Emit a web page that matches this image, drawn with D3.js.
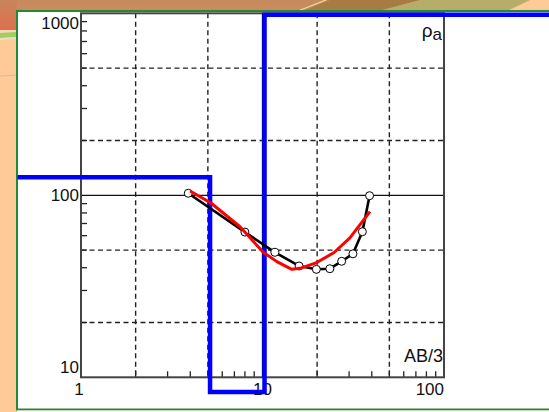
<!DOCTYPE html>
<html>
<head>
<meta charset="utf-8">
<script src="https://d3js.org/d3.v7.min.js"></script>
<style>
  html, body { margin: 0; padding: 0; background: #fecb98; }
  svg { display: block; }
  text { font-family: "Liberation Sans", Arial, sans-serif; fill: #111; }
</style>
</head>
<body>
<svg id="chart" width="549" height="412"></svg>
<script>
// tick labels and grid values
const xTicks = [1, 10, 100];
const yTicks = [10, 100, 1000];
const gridX = [2, 5, 20, 50];
const gridY = [20, 50, 200, 500];

// observed apparent resistivity (circles + black line)
const obsAB  = [3.9, 8.0, 11.7, 15.9, 19.8, 23.5, 27.3, 31.5, 35.5, 38.9];
const obsRho = [102.6, 62.8, 48.6, 40.9, 39.2, 39.5, 43.4, 47.7, 63.1, 99.5];

// computed curve (red)
const calcAB  = [3.99, 5.2, 7.52, 10.06, 12.0, 14.5, 16.1, 19.7, 24.8, 30.3, 39.1];
const calcRho = [105.6, 90.7, 67.2, 48.8, 43.2, 39.2, 39.7, 42.5, 48.5, 58.3, 81.3];

// layer model (blue step line)
const layerBounds = [0.447, 5.14, 10.26, 380];
const layerRho = [125.6, 8.3, 982];

const svg = d3.select("#chart");
const W = 549, H = 412;
const frame = { left: 81, right: 444, top: 13.3, bottom: 377.3 };

// ---- slide background bits ----
const defs = svg.append("defs");
const g1 = defs.append("linearGradient").attr("id", "topgrad").attr("x1", 0).attr("y1", 0).attr("x2", 0).attr("y2", 1);
g1.append("stop").attr("offset", "0%").attr("stop-color", "#c58a5c");
g1.append("stop").attr("offset", "100%").attr("stop-color", "#cf8a5e");
const g2 = defs.append("linearGradient").attr("id", "leftgrad").attr("x1", 0).attr("y1", 0).attr("x2", 0).attr("y2", 1);
g2.append("stop").attr("offset", "0%").attr("stop-color", "#c8865a");
g2.append("stop").attr("offset", "100%").attr("stop-color", "#de6e4e");

svg.append("rect").attr("width", W).attr("height", H).attr("fill", "#fecb98");
svg.append("rect").attr("width", W).attr("height", 12).attr("fill", "url(#topgrad)");
svg.append("rect").attr("width", 17).attr("height", 30).attr("fill", "url(#leftgrad)");
svg.append("polygon").attr("points", "0,30 17,30 17,32 0,33").attr("fill", "#f3d8b0");
svg.append("polygon").attr("points", "0,33 17,32 17,37 0,38").attr("fill", "#a2cc64");
svg.append("polygon").attr("points", "0,38 17,37 17,39 0,40").attr("fill", "#e8e0c0");
svg.append("line").attr("x1", 0).attr("x2", 17).attr("y1", 76).attr("y2", 75).attr("stroke", "#d2bea0").attr("stroke-width", 1.2);
svg.append("polygon").attr("points", "300,12 330,0 420,0 375,12").attr("fill", "#a87a44");
svg.append("polygon").attr("points", "375,12 420,0 530,0 505,12").attr("fill", "#b6ad6b");
svg.append("polygon").attr("points", "505,12 530,0 549,0 549,12").attr("fill", "#fecb98");
svg.append("line").attr("x1", 298).attr("y1", 11).attr("x2", 326).attr("y2", 0).attr("stroke", "#e6e0a0").attr("stroke-width", 1.2);

// white panel with green border
svg.append("rect").attr("x", 17).attr("y", 11).attr("width", 560).attr("height", 398.5)
  .attr("fill", "#fff").attr("stroke", "#1f8a3a").attr("stroke-width", 2);
svg.append("rect").attr("x", 17).attr("y", 410.5).attr("width", W).attr("height", 2).attr("fill", "#fbfbf6");

// ---- scales ----
const x = d3.scaleLog().domain([1, 100]).range([frame.left, frame.right]);
const y = d3.scaleLog().domain([10, 1000]).range([frame.bottom, frame.top]);

const plot = svg.append("g");

// dashed grid
plot.selectAll("line.gx").data(gridX).join("line").attr("class", "gx")
  .attr("x1", d => x(d)).attr("x2", d => x(d))
  .attr("y1", frame.top).attr("y2", frame.bottom)
  .attr("stroke", "#222").attr("stroke-width", 1.4).attr("stroke-dasharray", "5,3.5");
plot.selectAll("line.gy").data(gridY).join("line").attr("class", "gy")
  .attr("y1", d => y(d)).attr("y2", d => y(d))
  .attr("x1", frame.left).attr("x2", frame.right)
  .attr("stroke", "#222").attr("stroke-width", 1.4).attr("stroke-dasharray", "5,3.5");

// solid lines at inner decades
plot.append("line").attr("x1", x(10)).attr("x2", x(10)).attr("y1", frame.top).attr("y2", frame.bottom)
  .attr("stroke", "#111").attr("stroke-width", 1.3);
plot.append("line").attr("y1", y(100)).attr("y2", y(100)).attr("x1", frame.left).attr("x2", frame.right)
  .attr("stroke", "#111").attr("stroke-width", 1.3);

// minor ticks
const minorX = [], minorY = [];
[1, 10].forEach(dec => { for (let k = 2; k <= 9; k++) minorX.push(dec * k); });
[10, 100].forEach(dec => { for (let k = 2; k <= 9; k++) minorY.push(dec * k); });
plot.selectAll("line.tx").data(minorX).join("line").attr("class", "tx")
  .attr("x1", d => x(d)).attr("x2", d => x(d))
  .attr("y1", frame.bottom).attr("y2", frame.bottom - 6)
  .attr("stroke", "#222").attr("stroke-width", 1.3);
plot.selectAll("line.ty").data(minorY).join("line").attr("class", "ty")
  .attr("y1", d => y(d)).attr("y2", d => y(d))
  .attr("x1", frame.left).attr("x2", frame.left + 6)
  .attr("stroke", "#222").attr("stroke-width", 1.3);

// frame
plot.append("rect").attr("x", frame.left).attr("y", frame.top)
  .attr("width", frame.right - frame.left).attr("height", frame.bottom - frame.top)
  .attr("fill", "none").attr("stroke", "#444").attr("stroke-width", 2);

// tick labels (kept inside the frame span)
plot.selectAll("text.ylab").data(yTicks).join("text").attr("class", "ylab")
  .attr("x", frame.left - 2)
  .attr("y", d => Math.min(Math.max(y(d), frame.top + 10), frame.bottom - 10) + 6)
  .attr("text-anchor", "end").attr("font-size", 17)
  .text(d => d);
plot.selectAll("text.xlab").data(xTicks).join("text").attr("class", "xlab")
  .attr("y", 395)
  .attr("font-size", 17).attr("text-anchor", "middle")
  .text(d => d)
  .attr("x", function(d) {
    const w = this.getComputedTextLength();
    return Math.min(x(d) - (d === xTicks[0] ? 2 : 0), frame.right - w / 2);
  });

// axis names
const rl = plot.append("text").attr("x", 442).attr("y", 37).attr("text-anchor", "end").attr("font-size", 19);
rl.append("tspan").text("ρ");
rl.append("tspan").attr("dy", 3).attr("font-size", 17).text("a");
plot.append("text").attr("x", 443).attr("y", 361.5).attr("text-anchor", "end")
  .attr("font-size", 18).text("AB/3");

// blue layer model
const steps = [];
layerRho.forEach((r, i) => {
  steps.push([layerBounds[i], r]);
  steps.push([layerBounds[i + 1], r]);
});
plot.append("path").datum(steps)
  .attr("d", d3.line().x(d => x(d[0])).y(d => y(d[1])))
  .attr("fill", "none").attr("stroke", "#0000ff").attr("stroke-width", 4.5)
  .attr("stroke-linejoin", "miter");

// observed data
const obs = obsAB.map((a, i) => ({ ab: a, rho: obsRho[i] }));
plot.append("path").datum(obs)
  .attr("d", d3.line().x(d => x(d.ab)).y(d => y(d.rho)))
  .attr("fill", "none").attr("stroke", "#000").attr("stroke-width", 2.6)
  .attr("stroke-linejoin", "round");
plot.selectAll("circle.obs").data(obs).join("circle").attr("class", "obs")
  .attr("cx", d => x(d.ab)).attr("cy", d => y(d.rho)).attr("r", 4)
  .attr("fill", "#fff").attr("stroke", "#000").attr("stroke-width", 1);

// computed curve
const calc = calcAB.map((a, i) => ({ ab: a, rho: calcRho[i] }));
plot.append("path").datum(calc)
  .attr("d", d3.line().x(d => x(d.ab)).y(d => y(d.rho)))
  .attr("fill", "none").attr("stroke", "#ff0000").attr("stroke-width", 3)
  .attr("stroke-linejoin", "round");
</script>
</body>
</html>
